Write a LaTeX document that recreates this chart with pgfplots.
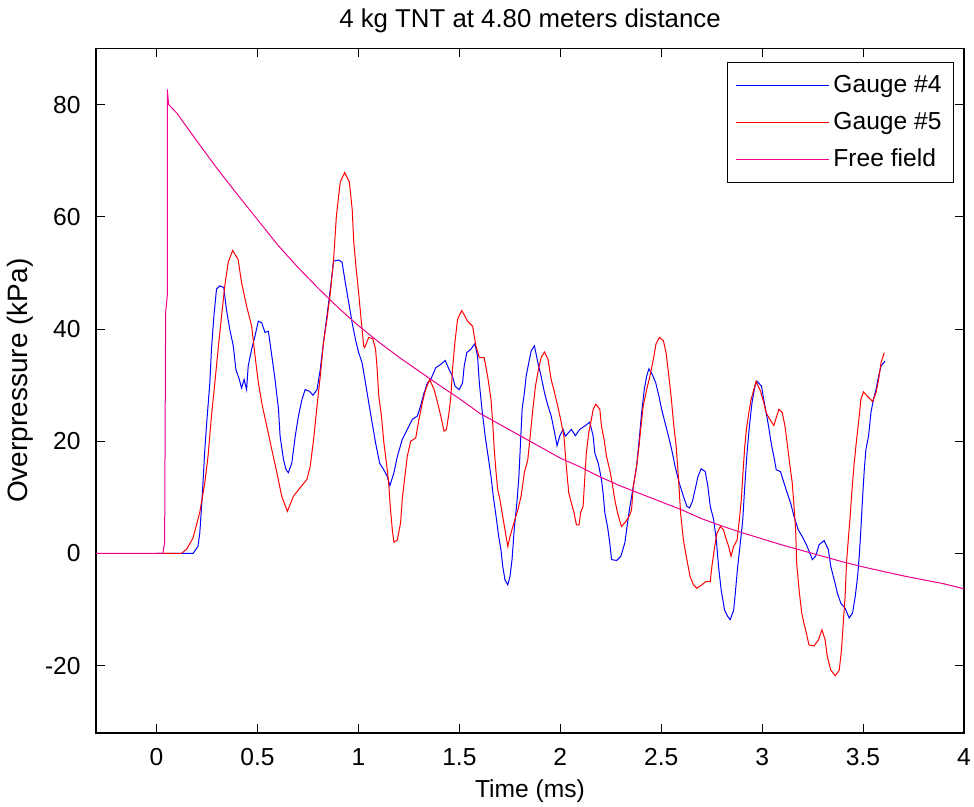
\documentclass[border=0pt]{standalone}
\usepackage{fontspec}
\setmainfont{Liberation Sans}
\usepackage{pgfplots}
\pgfplotsset{compat=1.18}
\newcommand{\chfont}{\fontsize{12.3}{14}\selectfont}
\begin{document}
\chfont
\begin{tikzpicture}
\begin{axis}[name=ax, scale only axis, width=434pt, height=342.25pt,
  xmin=-0.3, xmax=4, ymin=-32, ymax=90,
  xtick={0,0.5,1,1.5,2,2.5,3,3.5,4}, ytick={-20,0,20,40,60,80},
  tick align=inside, major tick length=4.5pt,
  tick style={black, line width=0.5pt},
  axis line style={black, line width=0.6pt},
  /pgf/number format/assume math mode=true,
  ticklabel style={font=\chfont},
  xticklabel style={yshift=-3.5pt},
  yticklabel style={xshift=-3.4pt},
  title={4 kg TNT at 4.80 meters distance},
  title style={at={(axis description cs:0.5,1.0416)}, anchor=center, yshift=-6.5pt, font=\fontsize{12.9}{15}\selectfont},
  xlabel={Time (ms)}, ylabel={Overpressure (kPa)},
  xlabel style={at={(axis description cs:0.5,-0.0847)}, anchor=center, font=\chfont},
  ylabel style={at={(axis description cs:-0.0876,0.5146)}, anchor=center, font=\fontsize{14}{16}\selectfont},
  legend style={at={(rel axis cs:1,1)}, anchor=north east, xshift=-5pt, yshift=-7pt,
    draw=black, line width=0.5pt, fill=white, inner xsep=4pt, inner ysep=3.75pt,
    font=\chfont, row sep=3pt,
    nodes={inner sep=2pt, text height=9pt, text depth=2.5pt}},
  legend cell align=left,
  legend image code/.code={\path (0pt,0pt) -- (46.5pt,0pt); \draw[#1] (4pt,0pt) -- (44pt,0pt);},
]
\addplot[blue, line width=0.5pt] coordinates {
(0,0) (0.181,0) (0.205,1.25) (0.214,3.6) (0.222,7.8) (0.230,12.6) (0.239,18.5)
(0.251,24.5) (0.264,30.4) (0.272,36.4) (0.284,42.3) (0.297,47.1) (0.313,47.7)
(0.333,47.4) (0.346,43.5) (0.363,39.9) (0.380,37) (0.393,32.8) (0.410,31)
(0.421,29.5) (0.434,31) (0.446,29.2) (0.454,33.4) (0.471,36.4) (0.488,38.8)
(0.504,41.4) (0.521,41.1) (0.537,39.4) (0.554,39.6) (0.571,35.2) (0.587,31)
(0.604,25.7) (0.612,20.9) (0.629,16.7) (0.642,14.9) (0.653,14.4) (0.670,16.1)
(0.687,20.9) (0.703,24.5) (0.720,27.4) (0.736,29.2) (0.758,28.9) (0.775,28.2)
(0.795,29.2) (0.811,32.8) (0.827,37.6) (0.844,42.3) (0.861,47.1) (0.877,52.1)
(0.902,52.3) (0.919,51.9) (0.935,48.3) (0.952,44.7) (0.969,41.1) (0.985,38.2)
(1.001,35.8) (1.018,34) (1.035,30.4) (1.051,26.9) (1.068,23.3) (1.085,19.7)
(1.105,16.1) (1.126,14.9) (1.143,13.7) (1.156,12.1) (1.176,14.4) (1.193,17.3)
(1.217,20.3) (1.242,22.1) (1.267,23.9) (1.292,24.5) (1.308,26.3) (1.325,28.6)
(1.342,30.4) (1.358,31) (1.383,33.1) (1.408,33.7) (1.430,34.4) (1.449,32.8)
(1.466,31.6) (1.479,29.8) (1.499,29.2) (1.516,30.4) (1.524,33.4) (1.537,35.8)
(1.557,36.4) (1.577,37.4) (1.590,35.2) (1.599,30.4) (1.612,25.7) (1.628,20.9)
(1.645,16.7) (1.657,13.7) (1.668,10.2) (1.682,6.6) (1.695,3.0) (1.706,0.7)
(1.715,-2.3) (1.726,-4.7) (1.740,-5.6) (1.751,-4.1) (1.761,-1.1) (1.773,4.8)
(1.785,9.0) (1.795,13.7) (1.803,19.7) (1.811,25.7) (1.822,28.6) (1.831,31.6)
(1.844,34) (1.856,36.1) (1.872,37) (1.889,34) (1.905,31.6) (1.922,28.6)
(1.939,26.3) (1.955,24.5) (1.972,21.5) (1.984,19.2) (1.997,20.9) (2.014,22.1)
(2.025,20.9) (2.055,22.1) (2.075,21.0) (2.096,22.1) (2.121,22.7) (2.146,23.4)
(2.163,20.9) (2.171,17.9) (2.188,16.1) (2.204,13.2) (2.212,10.8) (2.221,7.2)
(2.234,4.8) (2.245,1.9) (2.254,-1.1) (2.279,-1.25) (2.300,-0.5) (2.320,1.9)
(2.333,5.4) (2.345,8.4) (2.362,12) (2.378,15.5) (2.391,20.3) (2.403,25.1)
(2.416,29.2) (2.428,31.6) (2.439,32.9) (2.456,31.9) (2.473,30.4) (2.489,28)
(2.502,25.7) (2.519,23.3) (2.536,20.9) (2.552,18.5) (2.569,15.5) (2.589,12.6)
(2.610,10.2) (2.627,8.4) (2.640,8.1) (2.655,9.3) (2.668,11.4) (2.682,13.7)
(2.698,15.1) (2.718,14.6) (2.731,12) (2.743,8.4) (2.760,6.0) (2.773,2.4)
(2.784,-2.3) (2.797,-6.5) (2.814,-10.1) (2.829,-11.2) (2.842,-11.8) (2.859,-10.1)
(2.867,-7.1) (2.879,-2.3) (2.892,1.9) (2.904,6.0) (2.914,12) (2.925,17.9)
(2.937,22.7) (2.950,26.9) (2.964,29.8) (2.975,30.7) (2.997,29.8) (3.008,27.4)
(3.020,25.1) (3.033,22.4) (3.046,19.4) (3.058,17.3) (3.070,14.9) (3.091,14.6)
(3.108,12.6) (3.124,10.8) (3.141,9.0) (3.158,6.6) (3.179,4.2) (3.199,3.0)
(3.219,1.55) (3.235,0.2) (3.249,-1.1) (3.265,-0.5) (3.282,1.55) (3.307,2.3)
(3.328,0.7) (3.340,-2.3) (3.357,-4.7) (3.373,-7.1) (3.390,-8.9) (3.411,-9.75)
(3.431,-11.5) (3.448,-10.6) (3.461,-7.7) (3.473,-4.1) (3.481,-0.5) (3.489,4.2)
(3.498,10.2) (3.506,14.9) (3.514,18.5) (3.527,20.9) (3.539,25.1) (3.551,27.4)
(3.564,29.2) (3.577,31.6) (3.589,33.4) (3.609,34.3)
};
\addlegendentry{Gauge \#4}
\addplot[red, line width=0.5pt] coordinates {
(0,0) (0.123,0) (0.15,0.8) (0.181,2.8) (0.214,7.3) (0.239,12.6) (0.255,17.3)
(0.272,24.5) (0.289,30.5) (0.305,36.4) (0.322,42.3) (0.338,47.7) (0.355,51.9)
(0.377,54.0) (0.404,52.4) (0.421,48.3) (0.446,44.1) (0.471,40.5) (0.488,35.2)
(0.504,30.5) (0.524,26.3) (0.546,22.7) (0.571,18.5) (0.596,14.4) (0.620,10.2)
(0.648,7.5) (0.678,10.2) (0.711,11.7) (0.745,13.2) (0.761,15.5) (0.778,20.3)
(0.795,26.3) (0.811,31.6) (0.827,37.6) (0.844,41.7) (0.861,46.5) (0.877,52.4)
(0.891,60.2) (0.910,66.2) (0.932,67.9) (0.955,66.2) (0.969,61.4) (0.977,55.5)
(0.989,50.7) (1.001,46.5) (1.010,43) (1.026,37) (1.031,36.7) (1.051,38.5)
(1.071,38.3) (1.085,36.4) (1.093,32.8) (1.101,28) (1.114,24.5) (1.126,19.8)
(1.143,14.9) (1.151,12) (1.159,7.8) (1.168,4.2) (1.176,2.0) (1.193,2.4)
(1.209,5.5) (1.217,9.6) (1.230,13.7) (1.242,17.3) (1.259,20) (1.284,20.6)
(1.300,23.9) (1.317,26.9) (1.333,29.2) (1.353,31.0) (1.375,29.2) (1.392,26.9)
(1.408,24.5) (1.424,21.8) (1.436,22.1) (1.449,25.1) (1.458,28) (1.466,32.8)
(1.478,37.6) (1.491,41.7) (1.512,43.3) (1.541,41.4) (1.566,40.5) (1.582,37)
(1.599,34.9) (1.623,34.9) (1.640,31.6) (1.657,27.4) (1.665,23.3) (1.673,18.5)
(1.682,14.4) (1.690,11.4) (1.701,9.6) (1.715,6.6) (1.726,4.2) (1.740,1.25)
(1.751,3.0) (1.765,4.8) (1.790,7.8) (1.806,10.2) (1.822,14.4) (1.839,16.7)
(1.851,20.9) (1.864,25.7) (1.877,29.8) (1.892,32.8) (1.905,34.9) (1.922,35.9)
(1.939,34.6) (1.955,31) (1.972,28.6) (1.989,26) (2.005,23.3) (2.018,20.9)
(2.030,15.5) (2.042,10.8) (2.055,9.0) (2.068,7.3) (2.080,5.1) (2.093,5.1)
(2.101,7.3) (2.113,8.4) (2.121,13.2) (2.129,17.9) (2.141,21.5) (2.151,23.3)
(2.163,25.7) (2.176,26.6) (2.196,25.7) (2.204,22.7) (2.217,20.3) (2.229,17.3)
(2.245,14.9) (2.257,12.6) (2.270,9.6) (2.284,7.2) (2.303,4.8) (2.325,5.7)
(2.345,6.9) (2.353,7.8) (2.362,12) (2.378,15.5) (2.390,19.1) (2.400,22.7)
(2.411,26.3) (2.428,29.2) (2.444,31.6) (2.461,34.6) (2.474,37.3) (2.491,38.5)
(2.511,37.9) (2.524,35.8) (2.536,32.2) (2.549,28) (2.561,23.3) (2.574,19.1)
(2.586,13.2) (2.596,7.2) (2.610,2.4) (2.627,-1.1) (2.643,-4.1) (2.660,-5.6)
(2.677,-6.2) (2.701,-5.6) (2.721,-5.0) (2.743,-5.0) (2.751,-2.3) (2.765,1.25)
(2.776,3.6) (2.793,4.8) (2.809,4.2) (2.818,3.0) (2.834,1.25) (2.846,-0.5)
(2.859,1.25) (2.876,2.4) (2.887,6.0) (2.897,9.6) (2.905,14.4) (2.914,19.1)
(2.922,22.1) (2.934,25.1) (2.945,27.4) (2.959,29.2) (2.970,30.7) (2.992,28.9)
(3.008,26.9) (3.020,25.1) (3.033,24.2) (3.058,22.8) (3.083,25.7) (3.100,25.1)
(3.113,22.7) (3.124,19.7) (3.136,16.1) (3.149,12.6) (3.158,8.4) (3.166,4.2)
(3.171,-1.7) (3.183,-6.5) (3.196,-10.6) (3.207,-12.4) (3.219,-14.2) (3.232,-16.3)
(3.257,-16.5) (3.279,-15.4) (3.296,-13.6) (3.312,-15.4) (3.323,-18.4) (3.340,-20.8)
(3.362,-21.8) (3.382,-20.8) (3.393,-17.2) (3.403,-11.8) (3.411,-7.7) (3.418,-1.7)
(3.428,3.0) (3.436,6.6) (3.444,10.8) (3.456,16.1) (3.468,20.3) (3.481,24.5)
(3.489,27.4) (3.502,28.8) (3.522,28) (3.547,27.1) (3.564,28.6) (3.577,31)
(3.589,34) (3.605,35.8)
};
\addlegendentry{Gauge \#5}
\addplot[magenta, line width=0.5pt] coordinates {
(-0.3,0) (0.031,0) (0.040,1.9) (0.045,43) (0.053,45.9) (0.053,82.7) (0.06,80)
(0.1,78.5) (0.2,73.5) (0.3,68.6) (0.4,64) (0.5,59.5) (0.6,55) (0.7,51)
(0.8,47.3) (0.9,43.8) (1.0,40.6) (1.1,37.7) (1.2,35) (1.3,32.5) (1.4,30)
(1.5,27.6) (1.6,25) (1.7,23) (1.8,21) (1.9,19) (2.0,17) (2.1,15.4) (2.2,13.6)
(2.3,12) (2.4,10.6) (2.5,9.2) (2.6,7.8) (2.7,6.2) (2.8,4.9) (2.9,3.7) (3.0,2.6)
(3.1,1.5) (3.2,0.5) (3.3,-0.5) (3.4,-1.5) (3.5,-2.4) (3.6,-3.2) (3.7,-4.0)
(3.8,-4.7) (3.9,-5.4) (4.0,-6.3)
};
\addlegendentry{Free field}
\end{axis}
\pgfresetboundingbox
\path[use as bounding box] ([xshift=-48pt,yshift=-37pt]ax.south west) rectangle ([xshift=5pt,yshift=24.25pt]ax.north east);
\end{tikzpicture}
\end{document}
